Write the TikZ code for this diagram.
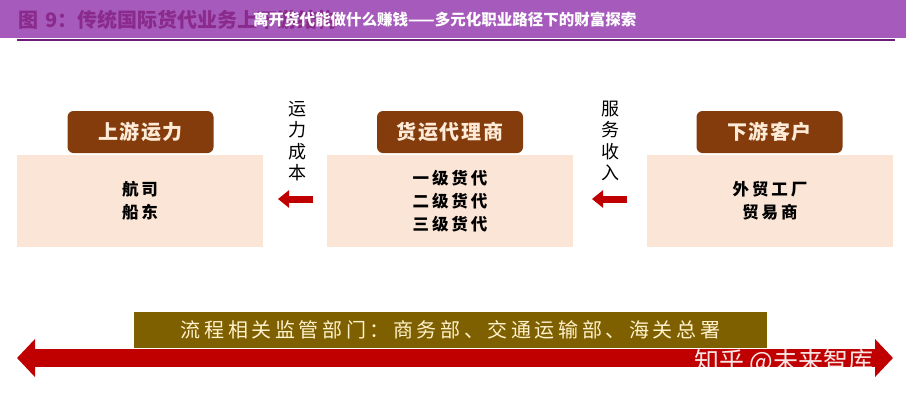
\documentclass[tikz,border=0pt]{standalone}
\usepackage{fontspec}
\setmainfont{Noto Sans CJK SC}
\newfontfamily\cjk{Noto Sans CJK SC}
\newfontfamily\cjkhead{Noto Sans CJK SC}[LetterSpace=8]
\newfontfamily\cjkbody{Noto Sans CJK SC}[LetterSpace=18]
\newfontfamily\cjkwide{Noto Sans CJK SC}[LetterSpace=18]
\usetikzlibrary{positioning,arrows.meta}
\definecolor{barpurple}{HTML}{A65BBC}
\definecolor{linepurple}{HTML}{6B1D78}
\definecolor{titlepurple}{HTML}{8A2A8C}
\definecolor{headbrown}{HTML}{843C0C}
\definecolor{bodypink}{HTML}{FBE5D6}
\definecolor{headtext}{HTML}{FDEBD8}
\definecolor{flowred}{HTML}{C00000}
\definecolor{olive}{HTML}{7F6000}
\definecolor{olivetext}{HTML}{FFF2CC}

\begin{document}
\begin{tikzpicture}[x=1pt,y=-1pt,
  head/.style={draw=none,fill=headbrown,rounded corners=6pt,minimum width=146pt,minimum height=42pt,
    text=headtext,font=\cjkhead\fontsize{20}{22}\selectfont\bfseries},
  body/.style={draw=none,fill=bodypink,minimum width=246pt,minimum height=92pt,align=center,
    font=\cjkbody\fontsize{16.5}{23}\selectfont\bfseries},
  vlabel/.style={align=center,inner sep=0pt,font=\cjk\fontsize{18}{21.5}\selectfont},
  money/.style={line width=7pt,flowred,-{Triangle[length=11pt,width=17pt]}}]
\useasboundingbox (0,0) rectangle (906,400);

% title bar
\fill[barpurple] (0,0) rectangle (906,38);
\draw[linepurple,line width=1.5pt] (17,40) -- (895,40);
\node[anchor=west,inner sep=0pt,text=titlepurple,font=\cjk\fontsize{20}{20}\selectfont\bfseries] (title) at (18,20) {图\hspace{7pt}9：传统国际货代业务上下游结构};
\node[anchor=west,inner sep=0pt,text=white,font=\cjk\fontsize{15.5}{16}\selectfont\bfseries] (overlay) at (253,20) {离开货代能做什么赚钱——多元化职业路径下的财富探索};

% the three parties
\node[body] (upbody) at (140,201) {航司\\船东};
\node[body] (midbody) at (450,201) {一级货代\\二级货代\\三级货代};
\node[body] (downbody) at (770,201) {外贸工厂\\贸易商};
\node[head] (up) at (140.5,132) {上游运力};
\node[head] (mid) at (450,132) {货运代理商};
\node[head] (down) at (769.5,132) {下游客户};

% flows between them
\node[vlabel] (cost) at (297,141) {运\\力\\成\\本};
\node[vlabel] (income) at (610,141) {服\\务\\收\\入};
\coordinate (costtail) at (313,199);
\coordinate (costtip) at (278,199);
\coordinate (incometail) at (627,199);
\coordinate (incometip) at (592,199);
\draw[money] (costtail) -- (costtip);
\draw[money] (incometail) -- (incometip);

% regulators
\coordinate (leftend) at (17,358);
\coordinate (rightend) at (893,358);
\draw[flowred,line width=18pt,{Triangle[length=18pt,width=37pt]}-{Triangle[length=18pt,width=37pt]}] (leftend) -- (rightend);
\node[fill=olive,minimum width=633pt,minimum height=36pt,text=olivetext,
  font=\cjkwide\fontsize{20}{21}\selectfont] (dept) at (450.5,330) {流程相关监管部门：商务部、交通运输部、海关总署};
\node[text=white,text opacity=0.9,font=\cjk\fontsize{25}{25}\selectfont] (mark) at (784,362) {知乎 @未来智库};
\end{tikzpicture}
\end{document}
